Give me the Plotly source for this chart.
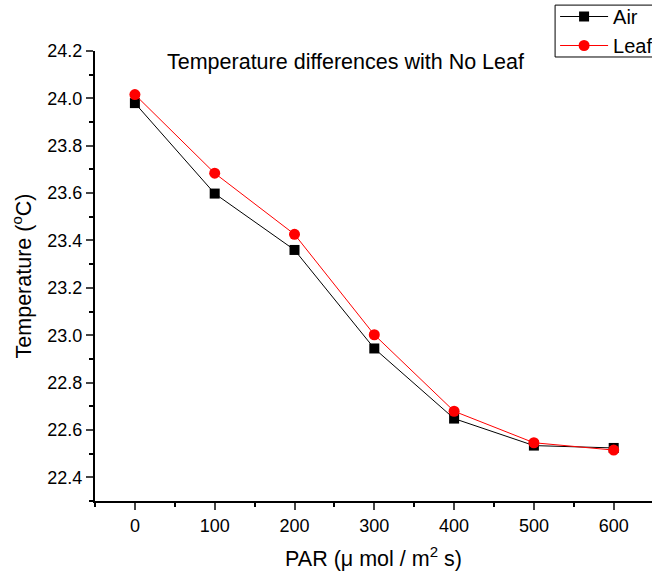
import plotly.graph_objects as go

par = [0, 100, 200, 300, 400, 500, 600]
air = [23.980, 23.598, 23.360, 22.944, 22.648, 22.534, 22.524]
leaf = [24.016, 23.684, 23.426, 23.002, 22.679, 22.546, 22.515]

FONT = "Liberation Sans, Arial, sans-serif"

fig = go.Figure()
fig.add_trace(go.Scatter(x=par, y=air, mode="lines+markers", name="Air",
                         line=dict(color="black", width=1),
                         marker=dict(symbol="square", size=10, color="black")))
fig.add_trace(go.Scatter(x=par, y=leaf, mode="lines+markers", name="Leaf",
                         line=dict(color="red", width=1),
                         marker=dict(symbol="circle", size=11, color="red")))

fig.add_annotation(text="Temperature differences with No Leaf", xref="paper", yref="paper",
                   x=0.449, y=0.976, xanchor="center", yanchor="middle", showarrow=False,
                   font=dict(family=FONT, size=21.5, color="black"))

# legend frame
fig.add_shape(type="rect", xref="paper", yref="paper",
              x0=0.826, x1=1.2, y0=0.9867, y1=1.102,
              line=dict(color="black", width=1), fillcolor="white", layer="above")

fig.update_layout(
    width=652, height=579,
    margin=dict(l=95, r=0, t=51, b=78, autoexpand=False),
    paper_bgcolor="white", plot_bgcolor="white",
    font=dict(family=FONT, size=18, color="black"),
    showlegend=True,
    legend=dict(x=0.826, y=1.12, xanchor="left", yanchor="top",
                borderwidth=0, bgcolor="rgba(0,0,0,0)",
                font=dict(family=FONT, size=20, color="black"),
                itemwidth=48, tracegroupgap=0),
    xaxis=dict(range=[-50, 648], tick0=0, dtick=100, ticks="outside", ticklen=7, tickwidth=2,
               showline=True, linecolor="black", linewidth=2, showgrid=False, zeroline=False,
               tickfont=dict(size=18),
               minor=dict(tick0=0, dtick=50, ticks="outside", ticklen=4, tickwidth=2, tickcolor="black", showgrid=False),
               title=dict(text="PAR (μ mol / m<sup>2</sup> s)", font=dict(size=21.5), standoff=16)),
    yaxis=dict(range=[22.3, 24.2], tick0=22.4, dtick=0.2, tickformat=".1f", ticks="outside", ticklen=7, tickwidth=2,
               showline=True, linecolor="black", linewidth=2, showgrid=False, zeroline=False,
               tickfont=dict(size=18),
               minor=dict(tick0=22.3, dtick=0.1, ticks="outside", ticklen=4, tickwidth=2, tickcolor="black", showgrid=False),
               title=dict(text="Temperature (<sup>o</sup>C)", font=dict(size=21.5), standoff=10)),
)

fig.write_html("out.html")
